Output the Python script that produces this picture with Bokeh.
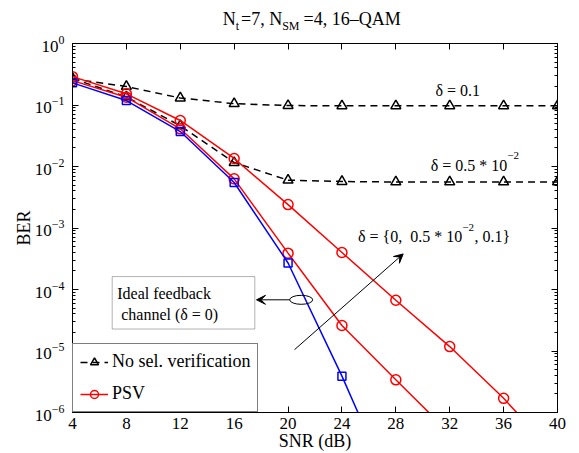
import math
from bokeh.plotting import figure
from bokeh.layouts import column
from bokeh.models import (LinearAxis, LogAxis, FixedTicker, Legend, LegendItem,
                          Label, Arrow, VeeHead, BoxAnnotation, Range1d,
                          CustomJSTickFormatter)
from bokeh.embed import file_html
from bokeh.resources import INLINE

# ---------------- data ----------------
snr = [4, 8, 12, 16, 20, 24, 28, 32, 36, 40]
x_ticks = [4, 8, 12, 16, 20, 24, 28, 32, 36, 40]
y_ticks = [1e-6, 1e-5, 1e-4, 1e-3, 1e-2, 1e-1, 1e0]

# No selection verification (dashed, triangles)
nosel_d01 = [0.265, 0.20, 0.13, 0.105, 0.098, 0.097, 0.097, 0.097, 0.097, 0.097]
nosel_d0005 = [0.27, 0.135, 0.046, 0.0116, 0.0060, 0.0057, 0.0056, 0.0056, 0.0056, 0.0056]

# PSV (red, circles)
snr_psv_d0005 = [4, 8, 12, 16, 20, 24, 28, 32]
psv_d0005 = [0.249, 0.134, 0.041, 0.0063, 3.9e-4, 2.6e-5, 3.4e-6, 4.6e-7]
snr_psv_d01 = [4, 8, 12, 16, 20, 24, 28, 32, 36, 40]
psv_d01 = [0.289, 0.152, 0.056, 0.0135, 2.4e-3, 4.0e-4, 6.7e-5, 1.18e-5, 1.7e-6, 1.9e-7]

# Ideal feedback channel (delta = 0), blue squares
snr_ideal = [4, 8, 12, 16, 20, 24, 28]
ideal = [0.229, 0.118, 0.037, 0.0055, 2.7e-4, 3.9e-6, 4.0e-8]

# ---------------- layout ----------------
W, H = 579, 453
TH = 31                      # height of the title strip
FL, FR, FT, FB = 72, 557, 43, 413   # frame in page pixels
X0, X1 = 4, 40
E0, E1 = -6, 0
FONT = "Liberation Serif"

def dx(px):
    return X0 + (px - FL) * (X1 - X0) / (FR - FL)

def dy(py):
    return 10 ** (E1 - (py - FT) * (E1 - E0) / (FB - FT))

# ---- title strip (same left/right borders as the main plot) ----
t = figure(width=W, height=TH, x_range=Range1d(X0, X1), y_range=Range1d(TH, 0),
           title=None, output_backend="svg", toolbar_location=None,
           x_axis_location=None, y_axis_location=None, min_border_left=FL,
           min_border_right=W - FR, min_border_top=0, min_border_bottom=0)
t.xgrid.visible = False
t.ygrid.visible = False
t.outline_line_color = None
t.background_fill_color = "white"
t.border_fill_color = "white"

def tlab(px, py, text, size="18px", align="left"):
    t.add_layout(Label(x=dx(px), y=py, text=text, text_font=FONT, text_font_size=size,
                       text_color="black", text_align=align, text_baseline="alphabetic"))

tlab(235.3, 18.3, "N", align="right")
tlab(235.3, 25.0, "t", size="12px")
tlab(281.7, 18.3, "=7, N", align="right")
tlab(281.7, 25.0, "SM", size="12px")
tlab(303, 18.3, "=4, 16\u2013QAM")

# ---- main plot ----
p = figure(width=W, height=H - TH, x_range=Range1d(X0, X1), y_range=Range1d(10**E0, 10**E1),
           y_axis_type="log", title=None, output_backend="svg", toolbar_location=None,
           min_border_left=FL, min_border_right=W - FR, min_border_top=FT - TH,
           min_border_bottom=H - FB)
p.xgrid.visible = False
p.ygrid.visible = False
p.outline_line_color = "black"
p.outline_line_width = 1
p.background_fill_color = "white"
p.border_fill_color = "white"

minor_y = [k * 10.0 ** e for e in range(E0, E1) for k in range(2, 10)]

def style(ax):
    ax.axis_line_color = "black"
    ax.axis_line_width = 1
    ax.major_tick_line_color = "black"
    ax.minor_tick_line_color = "black"
    ax.major_tick_in = 6
    ax.major_tick_out = 0
    ax.minor_tick_in = 3
    ax.minor_tick_out = 0
    ax.major_label_text_font = FONT
    ax.major_label_text_color = "black"
    ax.major_label_text_font_size = "17px"
    ax.axis_label_text_font = FONT
    ax.axis_label_text_font_size = "18px"
    ax.axis_label_text_font_style = "normal"
    ax.axis_label_text_color = "black"

xa = p.xaxis[0]
xa.ticker = FixedTicker(ticks=x_ticks)
style(xa)
xa.major_label_standoff = 5
xa.axis_label = "SNR (dB)"
xa.axis_label_standoff = -1

ya = p.yaxis[0]
ya.ticker = FixedTicker(ticks=y_ticks, minor_ticks=minor_y)
style(ya)
ya.major_label_standoff = 8
ya.axis_label = "BER"
ya.axis_label_standoff = -2

top = LinearAxis(ticker=FixedTicker(ticks=x_ticks),
                 formatter=CustomJSTickFormatter(code="return ''"))
style(top)
top.major_label_standoff = 0
p.add_layout(top, "above")
right = LogAxis(ticker=FixedTicker(ticks=y_ticks, minor_ticks=minor_y),
                formatter=CustomJSTickFormatter(code="return ''"))
style(right)
right.major_label_standoff = 0
p.add_layout(right, "right")

# ---------------- series ----------------
DASH = "7 5"
l1 = p.line(snr, nosel_d01, line_color="black", line_width=1.5, line_dash=DASH)
s1 = p.scatter(snr, nosel_d01, marker="triangle", size=10, fill_color=None,
               line_color="black", line_width=1.5)
l2 = p.line(snr, nosel_d0005, line_color="black", line_width=1.5, line_dash=DASH)
s2 = p.scatter(snr, nosel_d0005, marker="triangle", size=10, fill_color=None,
               line_color="black", line_width=1.5)

l3 = p.line(snr_psv_d01, psv_d01, line_color="red", line_width=1.5)
s3 = p.scatter(snr_psv_d01, psv_d01, marker="circle", size=10, fill_color=None,
               line_color="red", line_width=1.5)
l4 = p.line(snr_psv_d0005, psv_d0005, line_color="red", line_width=1.5)
s4 = p.scatter(snr_psv_d0005, psv_d0005, marker="circle", size=10, fill_color=None,
               line_color="red", line_width=1.5)

l5 = p.line(snr_ideal, ideal, line_color="blue", line_width=1.5)
s5 = p.scatter(snr_ideal, ideal, marker="square", size=8, fill_color=None,
               line_color="blue", line_width=1.5)

# ---------------- annotations ----------------
def lab(px, py, text, size="16px", align="left"):
    p.add_layout(Label(x=dx(px), y=dy(py), text=text, text_font=FONT,
                       text_font_size=size, text_color="black", text_align=align,
                       text_baseline="alphabetic"))

lab(435, 90, "\u03b4 = 0.1")
lab(506.7, 165, "\u03b4 = 0.5 * 10", align="right")
lab(506.7, 155, "\u22122", size="11px")
lab(461.7, 236.7, "\u03b4 = {0,\u00a0 0.5 * 10", align="right")
lab(461.7, 227, "\u22122", size="11px")
lab(474, 236.7, ", 0.1}")

# ideal feedback box
p.add_layout(BoxAnnotation(left=dx(111.7), right=dx(254.3), top=dy(276.7), bottom=dy(329.3),
                           fill_color="white", fill_alpha=1, line_color="black",
                           line_width=1))
lab(116.7, 294, "Ideal feedback")
lab(120.7, 315, "channel (\u03b4 = 0)")

# ellipse + arrow to box
p.ellipse(x=[dx(300.7)], y=[dy(300)], width=23, height=9, width_units="screen",
          height_units="screen", fill_color=None, line_color="black", line_width=1)
p.add_layout(Arrow(x_start=dx(289.3), y_start=dy(300), x_end=dx(256), y_end=dy(300),
                   line_color="black", line_width=1,
                   end=VeeHead(size=9, fill_color="black", line_color="black", line_width=1)))

# diagonal arrow (increasing delta)
p.add_layout(Arrow(x_start=dx(294), y_start=dy(350), x_end=dx(402.7), y_end=dy(254),
                   line_color="black", line_width=1,
                   end=VeeHead(size=9, fill_color="black", line_color="black", line_width=1)))

# ---------------- legend ----------------
legend = Legend(items=[LegendItem(label="No sel. verification", renderers=[l1, s1]),
                       LegendItem(label="PSV", renderers=[l3, s3])],
                location="bottom_left")
legend.margin = 0
legend.padding = 7
legend.spacing = 11
legend.glyph_width = 28
legend.glyph_height = 20
legend.label_height = 20
legend.label_standoff = 4
legend.label_text_font = FONT
legend.label_text_font_size = "18px"
legend.label_text_color = "black"
legend.border_line_color = "black"
legend.border_line_width = 1
legend.background_fill_color = "white"
legend.background_fill_alpha = 1
p.add_layout(legend)

layout = column(t, p, spacing=0)
open("out.html", "w").write(file_html(layout, INLINE))
